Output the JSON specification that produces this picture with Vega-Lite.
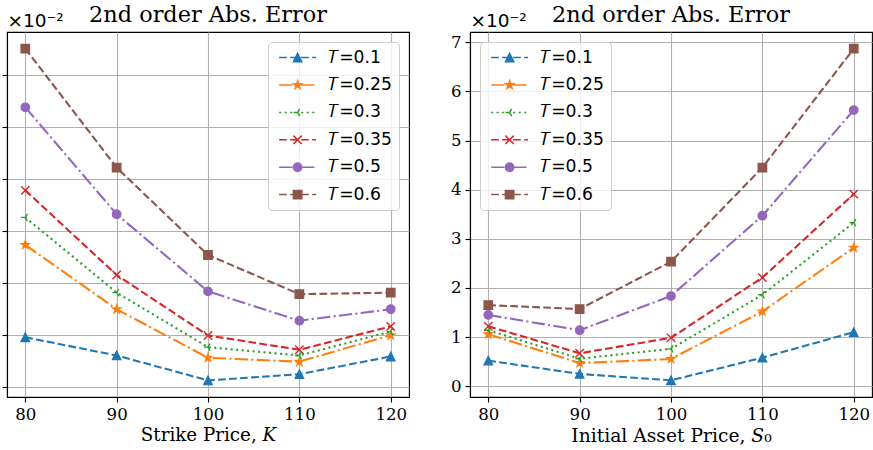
{
  "$schema": "https://vega.github.io/schema/vega-lite/v6.json",
  "padding": {"left": 0, "top": 3, "right": 0, "bottom": 0},
  "background": "white",
  "spacing": 39,
  "config": {
    "view": {"stroke": "black", "strokeWidth": 1.1},
    "axis": {"domainColor": "black", "domainWidth": 1.1, "tickColor": "black", "tickWidth": 1.1, "tickSize": 5, "gridColor": "#b0b0b0", "gridWidth": 1.1, "labelFont": "DejaVu Serif", "labelFontSize": 16.6, "labelColor": "black", "titleFont": "DejaVu Serif", "titleFontSize": 18.3, "titleFontWeight": "normal", "titleColor": "black", "labelPadding": 4},
    "title": {"font": "DejaVu Serif", "fontSize": 22.4, "fontWeight": "normal", "color": "black", "offset": -15, "frame": "group", "anchor": "middle"},
    "legend": {"title": null, "fillColor": "rgba(255,255,255,0.8)", "strokeColor": "#cccccc", "cornerRadius": 4, "padding": 7, "labelFont": "DejaVu Sans", "labelFontSize": 17.2, "labelColor": "black", "symbolSize": 70, "symbolStrokeWidth": 1.5, "symbolOpacity": 1, "symbolOffset": 14, "labelOffset": 22, "rowPadding": 9.4, "offset": 10}
  },
  "datasets": {
    "strike": [
      {"x": 80, "T": "0.1", "v": 0.95}, {"x": 90, "T": "0.1", "v": 0.60}, {"x": 100, "T": "0.1", "v": 0.12}, {"x": 110, "T": "0.1", "v": 0.24}, {"x": 120, "T": "0.1", "v": 0.58},
      {"x": 80, "T": "0.25", "v": 2.73}, {"x": 90, "T": "0.25", "v": 1.49}, {"x": 100, "T": "0.25", "v": 0.555}, {"x": 110, "T": "0.25", "v": 0.48}, {"x": 120, "T": "0.25", "v": 0.99},
      {"x": 80, "T": "0.3", "v": 3.26}, {"x": 90, "T": "0.3", "v": 1.81}, {"x": 100, "T": "0.3", "v": 0.76}, {"x": 110, "T": "0.3", "v": 0.60}, {"x": 120, "T": "0.3", "v": 1.06},
      {"x": 80, "T": "0.35", "v": 3.78}, {"x": 90, "T": "0.35", "v": 2.15}, {"x": 100, "T": "0.35", "v": 0.985}, {"x": 110, "T": "0.35", "v": 0.71}, {"x": 120, "T": "0.35", "v": 1.16},
      {"x": 80, "T": "0.5", "v": 5.38}, {"x": 90, "T": "0.5", "v": 3.32}, {"x": 100, "T": "0.5", "v": 1.835}, {"x": 110, "T": "0.5", "v": 1.27}, {"x": 120, "T": "0.5", "v": 1.49},
      {"x": 80, "T": "0.6", "v": 6.51}, {"x": 90, "T": "0.6", "v": 4.22}, {"x": 100, "T": "0.6", "v": 2.535}, {"x": 110, "T": "0.6", "v": 1.78}, {"x": 120, "T": "0.6", "v": 1.81}
    ],
    "asset": [
      {"x": 80, "T": "0.1", "v": 0.52}, {"x": 90, "T": "0.1", "v": 0.25}, {"x": 100, "T": "0.1", "v": 0.12}, {"x": 110, "T": "0.1", "v": 0.58}, {"x": 120, "T": "0.1", "v": 1.10},
      {"x": 80, "T": "0.25", "v": 1.06}, {"x": 90, "T": "0.25", "v": 0.47}, {"x": 100, "T": "0.25", "v": 0.555}, {"x": 110, "T": "0.25", "v": 1.52}, {"x": 120, "T": "0.25", "v": 2.82},
      {"x": 80, "T": "0.3", "v": 1.14}, {"x": 90, "T": "0.3", "v": 0.56}, {"x": 100, "T": "0.3", "v": 0.76}, {"x": 110, "T": "0.3", "v": 1.86}, {"x": 120, "T": "0.3", "v": 3.33},
      {"x": 80, "T": "0.35", "v": 1.22}, {"x": 90, "T": "0.35", "v": 0.67}, {"x": 100, "T": "0.35", "v": 0.985}, {"x": 110, "T": "0.35", "v": 2.21}, {"x": 120, "T": "0.35", "v": 3.91},
      {"x": 80, "T": "0.5", "v": 1.45}, {"x": 90, "T": "0.5", "v": 1.14}, {"x": 100, "T": "0.5", "v": 1.835}, {"x": 110, "T": "0.5", "v": 3.47}, {"x": 120, "T": "0.5", "v": 5.62},
      {"x": 80, "T": "0.6", "v": 1.65}, {"x": 90, "T": "0.6", "v": 1.57}, {"x": 100, "T": "0.6", "v": 2.535}, {"x": 110, "T": "0.6", "v": 4.45}, {"x": 120, "T": "0.6", "v": 6.87}
    ]
  },
  "hconcat": [
    {
      "title": "2nd order Abs. Error",
      "width": 402,
      "height": 365,
      "data": {"name": "strike"},
      "encoding": {
        "x": {"field": "x", "type": "quantitative", "scale": {"domain": [78, 122], "nice": false, "zero": false}, "axis": {"values": [80, 90, 100, 110, 120], "title": "Strike Price, 𝐾", "grid": true}},
        "y": {"field": "v", "type": "quantitative", "scale": {"domain": [-0.2, 6.83], "nice": false, "zero": false}, "axis": {"values": [0, 1, 2, 3, 4, 5, 6], "labels": false, "grid": true, "title": "×10⁻²", "titleAngle": 0, "titleAlign": "left", "titleBaseline": "alphabetic", "titleX": 0, "titleY": -6, "titleFont": "DejaVu Sans", "titleFontSize": 18.5}}
      },
      "layer": [
        {
          "mark": {"type": "line", "strokeWidth": 2.08},
          "encoding": {
            "stroke": {"field": "T", "type": "nominal", "scale": {"domain": ["0.1", "0.25", "0.3", "0.35", "0.5", "0.6", "_"], "range": ["#1f77b4", "#ff7f0e", "#2ca02c", "#d62728", "#9467bd", "#8c564b", "#000000"]}, "legend": null},
            "strokeDash": {"field": "T", "type": "nominal", "scale": {"domain": ["0.1", "0.25", "0.3", "0.35", "0.5", "0.6", "_"], "range": [[7.7, 3.3], [13.3, 3.3, 2.1, 3.3], [2.1, 3.4], [7.7, 3.3], [13.3, 3.3, 2.1, 3.3], [7.7, 3.3], [1, 0]]}, "legend": null}
          }
        },
        {
          "mark": {"type": "point", "filled": true, "opacity": 1, "size": 70, "strokeWidth": 1.4},
          "encoding": {
            "stroke": {"field": "T", "type": "nominal", "scale": {"domain": ["0.1", "0.25", "0.3", "0.35", "0.5", "0.6", "_"], "range": ["#1f77b4", "#ff7f0e", "#2ca02c", "#d62728", "#9467bd", "#8c564b", "#000000"]}, "legend": null},
            "color": {"field": "T", "type": "nominal", "scale": {"domain": ["0.1", "0.25", "0.3", "0.35", "0.5", "0.6", "_"], "range": ["#1f77b4", "#ff7f0e", "#2ca02c", "#d62728", "#9467bd", "#8c564b", "#000000"]}, "legend": null},
            "shape": {"field": "T", "type": "nominal", "scale": {"domain": ["0.1", "0.25", "0.3", "0.35", "0.5", "0.6", "_"], "range": ["M0,-1L-1,1L1,1Z", "M0,-1L0.225,-0.309L0.951,-0.309L0.363,0.118L0.588,0.809L0,0.382L-0.588,0.809L-0.363,0.118L-0.951,-0.309L-0.225,-0.309Z", "M0,0L-1,0M0,0L0.5,-0.866M0,0L0.5,0.866", "M-1,-1L1,1M-1,1L1,-1", "circle", "square", "circle"]}, "legend": null}
          }
        },
        {
          "transform": [{"filter": "datum.x < 0"}],
          "mark": {"type": "point", "filled": true, "opacity": 1, "size": 70, "strokeWidth": 1.5},
          "encoding": {
            "fill": {"field": "T", "type": "nominal", "scale": {"domain": ["0.1", "0.25", "0.3", "0.35", "0.5", "0.6"], "range": ["#1f77b4", "#ff7f0e", "#2ca02c", "#d62728", "#9467bd", "#8c564b"]}, "legend": {"orient": "top-right", "labelExpr": "'𝑇=' + datum.label"}},
            "stroke": {"field": "T", "type": "nominal", "scale": {"domain": ["0.1", "0.25", "0.3", "0.35", "0.5", "0.6"], "range": ["#1f77b4", "#ff7f0e", "#2ca02c", "#d62728", "#9467bd", "#8c564b"]}, "legend": {"orient": "top-right", "labelExpr": "'𝑇=' + datum.label"}},
            "shape": {"field": "T", "type": "nominal", "scale": {"domain": ["0.1", "0.25", "0.3", "0.35", "0.5", "0.6"], "range": [
              "M-4.42,0H-2.58M-1.79,0H0.06M0.85,0H2.69M3.49,0H4.42M0,-1L-1,1L1,1Z",
              "M-4.42,0H-1.24M-0.45,0H0.05M0.85,0H4.03M0,-1L0.225,-0.309L0.951,-0.309L0.363,0.118L0.588,0.809L0,0.382L-0.588,0.809L-0.363,0.118L-0.951,-0.309L-0.225,-0.309Z",
              "M-4.42,0H-3.92M-3.1,0H-2.61M-1.78,0H-1.29M-0.46,0H0.03M0.86,0H1.35M2.18,0H2.67M3.5,0H3.99M0,0L-1,0M0,0L0.5,-0.866M0,0L0.5,0.866",
              "M-4.42,0H-2.58M-1.79,0H0.06M0.85,0H2.69M3.49,0H4.42M-1,-1L1,1M-1,1L1,-1",
              "M-4.42,0H-1.24M-0.45,0H0.05M0.85,0H4.03M1,0A1,1,0,1,1,-1,0A1,1,0,1,1,1,0Z",
              "M-4.42,0H-2.58M-1.79,0H0.06M0.85,0H2.69M3.49,0H4.42M-1,-1H1V1H-1Z"]}, "legend": {"orient": "top-right", "labelExpr": "'𝑇=' + datum.label"}}
          }
        }
      ],
      "resolve": {"scale": {"stroke": "independent", "shape": "independent", "fill": "independent", "color": "independent"}, "legend": {"stroke": "independent", "shape": "independent", "fill": "independent", "color": "independent"}}
    },
    {
      "title": "2nd order Abs. Error",
      "width": 402,
      "height": 365,
      "data": {"name": "asset"},
      "encoding": {
        "x": {"field": "x", "type": "quantitative", "scale": {"domain": [78, 122], "nice": false, "zero": false}, "axis": {"values": [80, 90, 100, 110, 120], "title": "Initial Asset Price, 𝑆₀", "titleFontSize": 18.7, "grid": true}},
        "y": {"field": "v", "type": "quantitative", "scale": {"domain": [-0.22, 7.21], "nice": false, "zero": false}, "axis": {"values": [0, 1, 2, 3, 4, 5, 6, 7], "grid": true, "title": "×10⁻²", "titleAngle": 0, "titleAlign": "left", "titleBaseline": "alphabetic", "titleX": 0, "titleY": -6, "titleFont": "DejaVu Sans", "titleFontSize": 18.5}}
      },
      "layer": [
        {
          "mark": {"type": "line", "strokeWidth": 2.08},
          "encoding": {
            "stroke": {"field": "T", "type": "nominal", "scale": {"domain": ["0.1", "0.25", "0.3", "0.35", "0.5", "0.6", "_"], "range": ["#1f77b4", "#ff7f0e", "#2ca02c", "#d62728", "#9467bd", "#8c564b", "#000000"]}, "legend": null},
            "strokeDash": {"field": "T", "type": "nominal", "scale": {"domain": ["0.1", "0.25", "0.3", "0.35", "0.5", "0.6", "_"], "range": [[7.7, 3.3], [13.3, 3.3, 2.1, 3.3], [2.1, 3.4], [7.7, 3.3], [13.3, 3.3, 2.1, 3.3], [7.7, 3.3], [1, 0]]}, "legend": null}
          }
        },
        {
          "mark": {"type": "point", "filled": true, "opacity": 1, "size": 70, "strokeWidth": 1.4},
          "encoding": {
            "stroke": {"field": "T", "type": "nominal", "scale": {"domain": ["0.1", "0.25", "0.3", "0.35", "0.5", "0.6", "_"], "range": ["#1f77b4", "#ff7f0e", "#2ca02c", "#d62728", "#9467bd", "#8c564b", "#000000"]}, "legend": null},
            "color": {"field": "T", "type": "nominal", "scale": {"domain": ["0.1", "0.25", "0.3", "0.35", "0.5", "0.6", "_"], "range": ["#1f77b4", "#ff7f0e", "#2ca02c", "#d62728", "#9467bd", "#8c564b", "#000000"]}, "legend": null},
            "shape": {"field": "T", "type": "nominal", "scale": {"domain": ["0.1", "0.25", "0.3", "0.35", "0.5", "0.6", "_"], "range": ["M0,-1L-1,1L1,1Z", "M0,-1L0.225,-0.309L0.951,-0.309L0.363,0.118L0.588,0.809L0,0.382L-0.588,0.809L-0.363,0.118L-0.951,-0.309L-0.225,-0.309Z", "M0,0L-1,0M0,0L0.5,-0.866M0,0L0.5,0.866", "M-1,-1L1,1M-1,1L1,-1", "circle", "square", "circle"]}, "legend": null}
          }
        },
        {
          "transform": [{"filter": "datum.x < 0"}],
          "mark": {"type": "point", "filled": true, "opacity": 1, "size": 70, "strokeWidth": 1.5},
          "encoding": {
            "fill": {"field": "T", "type": "nominal", "scale": {"domain": ["0.1", "0.25", "0.3", "0.35", "0.5", "0.6"], "range": ["#1f77b4", "#ff7f0e", "#2ca02c", "#d62728", "#9467bd", "#8c564b"]}, "legend": {"orient": "top-left", "labelExpr": "'𝑇=' + datum.label"}},
            "stroke": {"field": "T", "type": "nominal", "scale": {"domain": ["0.1", "0.25", "0.3", "0.35", "0.5", "0.6"], "range": ["#1f77b4", "#ff7f0e", "#2ca02c", "#d62728", "#9467bd", "#8c564b"]}, "legend": {"orient": "top-left", "labelExpr": "'𝑇=' + datum.label"}},
            "shape": {"field": "T", "type": "nominal", "scale": {"domain": ["0.1", "0.25", "0.3", "0.35", "0.5", "0.6"], "range": [
              "M-4.42,0H-2.58M-1.79,0H0.06M0.85,0H2.69M3.49,0H4.42M0,-1L-1,1L1,1Z",
              "M-4.42,0H-1.24M-0.45,0H0.05M0.85,0H4.03M0,-1L0.225,-0.309L0.951,-0.309L0.363,0.118L0.588,0.809L0,0.382L-0.588,0.809L-0.363,0.118L-0.951,-0.309L-0.225,-0.309Z",
              "M-4.42,0H-3.92M-3.1,0H-2.61M-1.78,0H-1.29M-0.46,0H0.03M0.86,0H1.35M2.18,0H2.67M3.5,0H3.99M0,0L-1,0M0,0L0.5,-0.866M0,0L0.5,0.866",
              "M-4.42,0H-2.58M-1.79,0H0.06M0.85,0H2.69M3.49,0H4.42M-1,-1L1,1M-1,1L1,-1",
              "M-4.42,0H-1.24M-0.45,0H0.05M0.85,0H4.03M1,0A1,1,0,1,1,-1,0A1,1,0,1,1,1,0Z",
              "M-4.42,0H-2.58M-1.79,0H0.06M0.85,0H2.69M3.49,0H4.42M-1,-1H1V1H-1Z"]}, "legend": {"orient": "top-left", "labelExpr": "'𝑇=' + datum.label"}}
          }
        }
      ],
      "resolve": {"scale": {"stroke": "independent", "shape": "independent", "fill": "independent", "color": "independent"}, "legend": {"stroke": "independent", "shape": "independent", "fill": "independent", "color": "independent"}}
    }
  ],
  "resolve": {
    "scale": {"x": "independent", "y": "independent", "color": "independent", "fill": "independent", "shape": "independent", "strokeDash": "independent", "stroke": "independent"},
    "legend": {"color": "independent", "fill": "independent", "shape": "independent", "strokeDash": "independent", "stroke": "independent"}
  }
}
